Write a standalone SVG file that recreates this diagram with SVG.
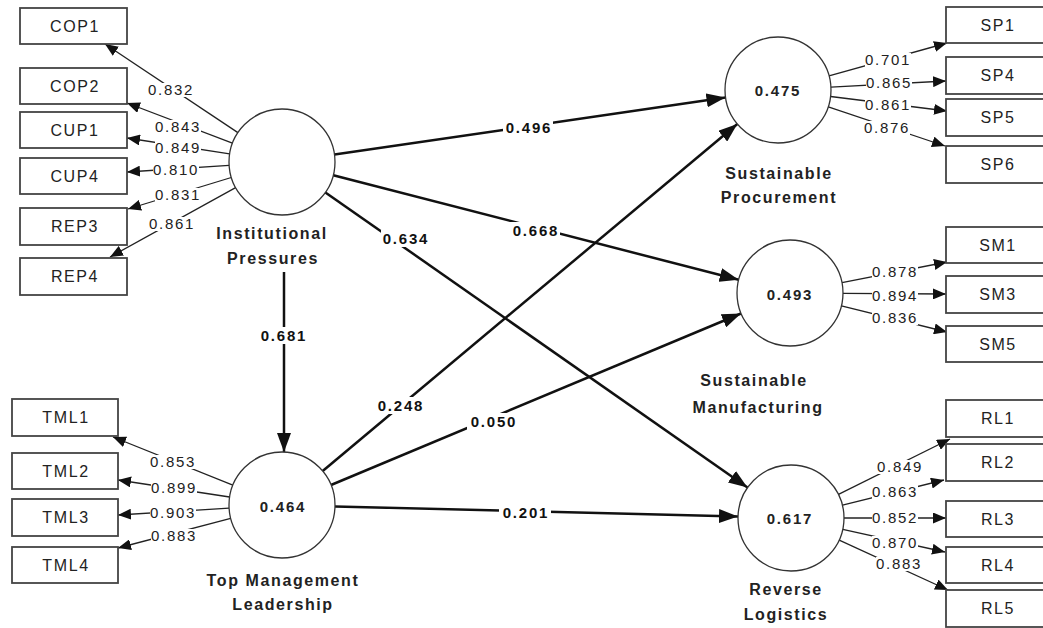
<svg xmlns="http://www.w3.org/2000/svg" width="1043" height="628" viewBox="0 0 1043 628">
<style>
.box{fill:#fff;stroke:#444;stroke-width:1.8}
.bt{font-family:"Liberation Sans",Arial,sans-serif;font-size:16px;letter-spacing:1.6px;fill:#222;text-anchor:middle}
.lv{fill:#fff;stroke:#333;stroke-width:1.3}
.lt{font-family:"Liberation Sans",Arial,sans-serif;font-size:16px;font-weight:bold;letter-spacing:1.6px;fill:#222;text-anchor:middle}
.cv{font-family:"Liberation Sans",Arial,sans-serif;font-size:15px;font-weight:bold;letter-spacing:1.8px;fill:#222;text-anchor:middle}
.ml{stroke:#222;stroke-width:1.3;fill:none;marker-end:url(#am)}
.sl{stroke:#111;stroke-width:2.5;fill:none;marker-end:url(#as)}
.bg{fill:#fff}
.ll{font-family:"Liberation Sans",Arial,sans-serif;font-size:15px;letter-spacing:1.7px;fill:#222;text-anchor:middle}
.pl{font-family:"Liberation Sans",Arial,sans-serif;font-size:15px;font-weight:bold;letter-spacing:1.8px;fill:#111;text-anchor:middle}
</style>
<defs>
<marker id="am" markerUnits="userSpaceOnUse" markerWidth="13" markerHeight="11" refX="13" refY="5.5" orient="auto"><path d="M0,0 L13,5.5 L0,11 z" fill="#111"/></marker>
<marker id="as" markerUnits="userSpaceOnUse" markerWidth="19" markerHeight="14" refX="19" refY="7" orient="auto"><path d="M0,0 L19,7 L0,14 z" fill="#111"/></marker>
</defs>
<rect width="1043" height="628" fill="#fff"/>

<g id="connectors">
<line class="sl" x1="334.5" y1="154.4" x2="725.5" y2="97.6"/>
<line class="sl" x1="333.3" y1="175.2" x2="738.7" y2="279.8"/>
<line class="sl" x1="325.4" y1="192.4" x2="747.5" y2="487.6"/>
<line class="sl" x1="322.7" y1="471" x2="737.3" y2="124"/>
<line class="sl" x1="331" y1="485" x2="741" y2="313.5"/>
<line class="sl" x1="335" y1="506.4" x2="738" y2="516.6"/>
<line class="sl" x1="284" y1="272" x2="284" y2="452"/>
<line class="ml" x1="237.9" y1="132.6" x2="105" y2="44"/>
<line class="ml" x1="232.4" y1="143.1" x2="127" y2="103"/>
<line class="ml" x1="229.6" y1="153.9" x2="127" y2="138"/>
<line class="ml" x1="229.1" y1="165.4" x2="127" y2="172"/>
<line class="ml" x1="231.3" y1="177.5" x2="128" y2="209"/>
<line class="ml" x1="235.6" y1="187.6" x2="110" y2="257"/>
<line class="ml" x1="232.8" y1="485.2" x2="113" y2="437"/>
<line class="ml" x1="229.6" y1="497" x2="118" y2="480"/>
<line class="ml" x1="229.1" y1="508.2" x2="118" y2="515"/>
<line class="ml" x1="230.7" y1="518.4" x2="118" y2="548"/>
<line class="ml" x1="829" y1="75.8" x2="947" y2="43"/>
<line class="ml" x1="830.9" y1="87.2" x2="946" y2="81"/>
<line class="ml" x1="830.6" y1="96.5" x2="947" y2="111"/>
<line class="ml" x1="828.3" y1="106.9" x2="945" y2="146"/>
<line class="ml" x1="842" y1="282.7" x2="947" y2="262"/>
<line class="ml" x1="843" y1="293.3" x2="946" y2="294"/>
<line class="ml" x1="841.4" y1="305.8" x2="947" y2="332"/>
<line class="ml" x1="838.5" y1="494.4" x2="950" y2="439"/>
<line class="ml" x1="842.5" y1="505.2" x2="944" y2="480"/>
<line class="ml" x1="844" y1="518" x2="946" y2="518"/>
<line class="ml" x1="842.8" y1="529.4" x2="945" y2="552"/>
<line class="ml" x1="839.2" y1="540.1" x2="948" y2="590"/>

<rect class="bg" x="503" y="119" width="50" height="17"/><text class="pl" x="529" y="133">0.496</text>
<rect class="bg" x="510" y="222" width="50" height="17"/><text class="pl" x="536" y="236">0.668</text>
<rect class="bg" x="381" y="230" width="48" height="17"/><text class="pl" x="406" y="244">0.634</text>
<rect class="bg" x="375" y="397" width="50" height="17"/><text class="pl" x="401" y="411">0.248</text>
<rect class="bg" x="467" y="413" width="52" height="17"/><text class="pl" x="494" y="427">0.050</text>
<rect class="bg" x="499" y="504" width="52" height="17"/><text class="pl" x="526" y="518">0.201</text>
<rect class="bg" x="258" y="327" width="52" height="17"/><text class="pl" x="284" y="341">0.681</text>

<rect class="bg" x="148" y="83" width="46" height="14"/><text class="ll" x="171" y="95">0.832</text>
<rect class="bg" x="155" y="120" width="46" height="14"/><text class="ll" x="178" y="132">0.843</text>
<rect class="bg" x="155" y="141" width="46" height="14"/><text class="ll" x="178" y="153">0.849</text>
<rect class="bg" x="153" y="163" width="46" height="14"/><text class="ll" x="176" y="175">0.810</text>
<rect class="bg" x="155" y="188" width="46" height="14"/><text class="ll" x="178" y="200">0.831</text>
<rect class="bg" x="149" y="217" width="46" height="14"/><text class="ll" x="172" y="229">0.861</text>

<rect class="bg" x="150" y="455" width="46" height="14"/><text class="ll" x="173" y="467">0.853</text>
<rect class="bg" x="151" y="481" width="46" height="14"/><text class="ll" x="174" y="493">0.899</text>
<rect class="bg" x="150" y="506" width="46" height="14"/><text class="ll" x="173" y="518">0.903</text>
<rect class="bg" x="151" y="529" width="46" height="14"/><text class="ll" x="174" y="541">0.883</text>

<rect class="bg" x="865" y="53" width="46" height="14"/><text class="ll" x="888" y="65">0.701</text>
<rect class="bg" x="866" y="76" width="46" height="14"/><text class="ll" x="889" y="88">0.865</text>
<rect class="bg" x="865" y="98" width="46" height="14"/><text class="ll" x="888" y="110">0.861</text>
<rect class="bg" x="864" y="121" width="46" height="14"/><text class="ll" x="887" y="133">0.876</text>

<rect class="bg" x="872" y="265" width="46" height="14"/><text class="ll" x="895" y="277">0.878</text>
<rect class="bg" x="872" y="289" width="46" height="14"/><text class="ll" x="895" y="301">0.894</text>
<rect class="bg" x="872" y="311" width="46" height="14"/><text class="ll" x="895" y="323">0.836</text>

<rect class="bg" x="877" y="460" width="46" height="14"/><text class="ll" x="900" y="472">0.849</text>
<rect class="bg" x="872" y="485" width="46" height="14"/><text class="ll" x="895" y="497">0.863</text>
<rect class="bg" x="872" y="511" width="46" height="14"/><text class="ll" x="895" y="523">0.852</text>
<rect class="bg" x="872" y="536" width="46" height="14"/><text class="ll" x="895" y="548">0.870</text>
<rect class="bg" x="876" y="557" width="46" height="14"/><text class="ll" x="899" y="569">0.883</text>
</g>

<g id="IP">
<circle class="lv" cx="282" cy="162" r="53"/>
<text class="lt" x="272" y="239">Institutional</text>
<text class="lt" x="273" y="264">Pressures</text>
</g>
<g id="TML">
<circle class="lv" cx="282" cy="505" r="53"/>
<text class="cv" x="283" y="512">0.464</text>
<text class="lt" x="283" y="586">Top Management</text>
<text class="lt" x="283" y="610">Leadership</text>
</g>
<g id="SP">
<circle class="lv" cx="778" cy="90" r="53"/>
<text class="cv" x="778" y="96">0.475</text>
<text class="lt" x="779" y="179">Sustainable</text>
<text class="lt" x="779" y="203">Procurement</text>
</g>
<g id="SM">
<circle class="lv" cx="790" cy="293" r="53"/>
<text class="cv" x="790" y="300">0.493</text>
<text class="lt" x="754" y="386">Sustainable</text>
<text class="lt" x="758" y="413">Manufacturing</text>
</g>
<g id="RL">
<circle class="lv" cx="791" cy="518" r="53"/>
<text class="cv" x="790" y="524">0.617</text>
<text class="lt" x="786" y="595">Reverse</text>
<text class="lt" x="786" y="620">Logistics</text>
</g>

<g id="COP1"><rect class="box" x="20" y="8" width="107" height="36"/><text class="bt" x="75" y="32">COP1</text></g>
<g id="COP2"><rect class="box" x="20" y="68" width="107" height="36"/><text class="bt" x="75" y="92">COP2</text></g>
<g id="CUP1"><rect class="box" x="20" y="112" width="107" height="36"/><text class="bt" x="75" y="136">CUP1</text></g>
<g id="CUP4"><rect class="box" x="20" y="158" width="107" height="36"/><text class="bt" x="75" y="182">CUP4</text></g>
<g id="REP3"><rect class="box" x="20" y="208" width="107" height="37"/><text class="bt" x="75" y="232">REP3</text></g>
<g id="REP4"><rect class="box" x="20" y="258" width="107" height="37"/><text class="bt" x="75" y="282">REP4</text></g>

<g id="TML1"><rect class="box" x="12" y="399" width="106" height="37"/><text class="bt" x="66" y="423">TML1</text></g>
<g id="TML2"><rect class="box" x="12" y="453" width="106" height="36"/><text class="bt" x="66" y="477">TML2</text></g>
<g id="TML3"><rect class="box" x="12" y="499" width="106" height="37"/><text class="bt" x="66" y="523">TML3</text></g>
<g id="TML4"><rect class="box" x="12" y="547" width="106" height="36"/><text class="bt" x="66" y="571">TML4</text></g>

<g id="SP1"><rect class="box" x="946" y="7" width="108" height="36"/><text class="bt" x="998" y="31">SP1</text></g>
<g id="SP4"><rect class="box" x="946" y="57" width="108" height="37"/><text class="bt" x="998" y="81">SP4</text></g>
<g id="SP5"><rect class="box" x="946" y="99" width="108" height="37"/><text class="bt" x="998" y="123">SP5</text></g>
<g id="SP6"><rect class="box" x="946" y="146" width="108" height="37"/><text class="bt" x="998" y="170">SP6</text></g>

<g id="SM1"><rect class="box" x="946" y="227" width="108" height="36"/><text class="bt" x="998" y="251">SM1</text></g>
<g id="SM3"><rect class="box" x="946" y="276" width="108" height="37"/><text class="bt" x="998" y="300">SM3</text></g>
<g id="SM5"><rect class="box" x="946" y="326" width="108" height="36"/><text class="bt" x="998" y="350">SM5</text></g>

<g id="RL1"><rect class="box" x="946" y="400" width="108" height="37"/><text class="bt" x="998" y="424">RL1</text></g>
<g id="RL2"><rect class="box" x="946" y="444" width="108" height="37"/><text class="bt" x="998" y="468">RL2</text></g>
<g id="RL3"><rect class="box" x="946" y="501" width="108" height="36"/><text class="bt" x="998" y="525">RL3</text></g>
<g id="RL4"><rect class="box" x="946" y="547" width="108" height="36"/><text class="bt" x="998" y="571">RL4</text></g>
<g id="RL5"><rect class="box" x="946" y="590" width="108" height="37"/><text class="bt" x="998" y="614">RL5</text></g>
</svg>
